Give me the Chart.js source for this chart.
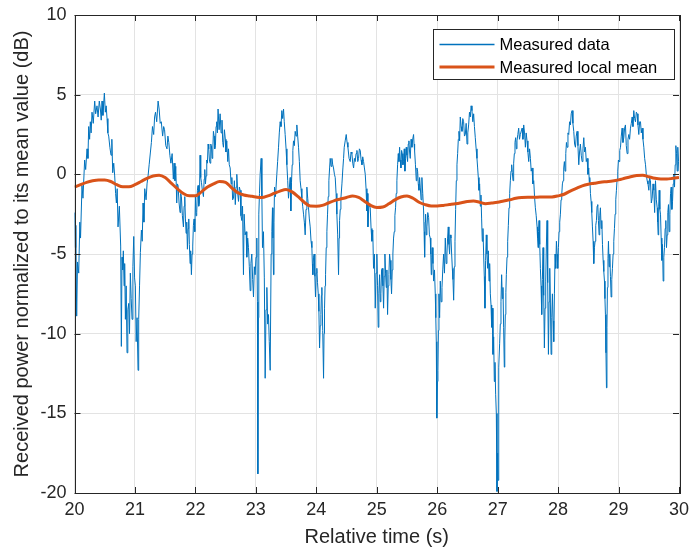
<!DOCTYPE html>
<html lang="en">
<head>
<meta charset="utf-8">
<script src="https://cdn.jsdelivr.net/npm/chart.js"></script>
<style>
  html, body { margin: 0; padding: 0; background: #fff; }
</style>
</head>
<body>
<canvas id="chartCanvas" width="693" height="553"></canvas>
<script>
// measured received power (dB)
const measuredTime = [
  20.000,20.012,20.022,20.036,20.050,20.070,20.088,20.100,20.124,20.140,
  20.168,20.185,20.207,20.222,20.235,20.250,20.262,20.275,20.290,20.310,
  20.334,20.350,20.372,20.390,20.410,20.428,20.442,20.455,20.470,20.494,
  20.510,20.524,20.538,20.552,20.566,20.585,20.604,20.618,20.632,20.649,
  20.665,20.680,20.693,20.706,20.720,20.742,20.764,20.775,20.786,20.797,
  20.808,20.820,20.830,20.842,20.855,20.869,20.882,20.897,20.910,20.924,
  20.938,20.952,20.966,20.980,20.994,21.007,21.020,21.035,21.051,21.062,
  21.076,21.090,21.107,21.120,21.134,21.148,21.162,21.184,21.200,21.217,
  21.235,21.256,21.272,21.290,21.310,21.325,21.340,21.360,21.383,21.400,
  21.418,21.436,21.458,21.475,21.490,21.510,21.530,21.545,21.560,21.578,
  21.595,21.615,21.635,
  21.647,21.662,21.675,21.691,21.702,21.713,21.730,21.746,21.757,21.768,
  21.785,21.802,21.813,21.824,21.835,21.846,21.857,21.868,21.880,21.890,
  21.900,21.912,21.922,21.934,21.945,21.956,21.967,21.978,21.990,22.000,
  22.011,22.022,22.033,22.044,22.055,22.066,22.077,22.088,22.100,22.115,
  22.133,22.145,22.155,22.166,22.177,22.188,22.199,22.210,22.221,22.232,
  22.243,22.254,22.265,22.276,22.287,22.298,22.309,22.320,22.331,22.342,
  22.353,22.364,22.375,22.392,
  22.409,22.425,22.440,22.452,22.464,22.480,22.495,22.505,22.519,22.535,
  22.548,22.560,22.575,22.590,22.603,22.616,22.630,22.645,22.660,22.672,
  22.685,22.700,22.713,22.727,22.740,22.754,22.768,22.780,22.795,22.806,
  22.822,22.839,22.850,22.865,22.878,22.892,22.906,22.918,22.933,22.947,
  22.961,22.975,22.988,23.003,23.016,23.026,23.033,23.041,23.049,23.060,
  23.071,23.088,23.100,23.110,23.126,23.140,23.154,23.168,23.182,23.196,
  23.209,23.222,23.237,23.253,23.265,23.275,23.283,23.292,23.300,23.309,
  23.325,23.347,23.360,23.375,23.388,23.402,23.416,23.430,23.444,23.458,
  23.470,23.485,23.500,23.513,23.527,23.540,23.555,23.568,23.579,23.590,
  23.601,23.612,23.623,23.637,23.651,23.665,23.678,23.692,23.706,23.720,
  23.733,23.747,23.761,23.775,23.789,23.802,23.816,23.830,23.844,23.858,
  23.871,23.885,23.899,23.913,23.927,23.935,23.943,23.954,23.965,23.976,
  23.987,23.998,24.009,24.020,24.032,24.043,24.054,24.065,24.076,24.084,
  24.092,24.106,24.120,24.128,24.136,24.145,24.153,24.164,24.175,24.186,
  24.197,24.208,24.220,24.230,24.244,24.258,24.272,24.285,24.300,24.313,
  24.327,24.340,24.354,24.368,24.377,24.385,24.396,24.407,24.424,24.440,
  24.451,24.462,24.478,24.495,24.509,24.523,24.542,24.561,24.575,24.589,
  24.603,24.617,24.630,24.644,24.658,24.672,24.686,24.699,24.713,24.727,
  24.741,24.755,24.768,24.782,24.796,24.810,24.823,24.837,24.846,24.854,
  24.870,
  24.892,24.906,24.920,24.934,24.947,24.961,24.975,24.988,25.002,25.013,
  25.024,25.035,25.047,25.058,25.069,25.080,25.091,25.102,25.113,25.124,
  25.135,25.146,25.157,25.168,25.179,25.190,25.201,25.212,25.223,25.234,
  25.245,25.256,25.267,25.278,25.289,25.300,25.311,25.322,25.333,25.345,
  25.356,25.367,25.378,25.389,25.400,25.411,25.422,25.433,25.444,25.455,
  25.466,25.477,25.488,25.499,25.510,25.521,25.532,25.543,25.554,25.568,
  25.582,25.595,25.609,25.617,25.626,25.640,25.654,25.665,25.676,25.687,
  25.698,25.709,25.720,25.733,25.747,25.761,25.775,25.783,25.792,25.800,
  25.808,25.819,25.830,25.844,25.858,25.871,25.885,25.894,25.902,25.910,
  25.918,25.930,25.941,25.955,25.968,25.977,25.985,25.991,25.996,26.004,
  26.012,26.020,26.029,26.040,26.051,26.065,26.079,26.092,26.106,26.120,
  26.134,26.148,26.161,26.172,26.183,26.194,26.205,26.216,26.228,26.239,
  26.250,26.261,26.272,26.283,26.294,26.305,26.316,26.327,26.338,26.349,
  26.360,26.371,26.382,26.396,26.410,26.423,26.437,26.451,26.465,26.479,
  26.493,26.506,26.520,26.534,26.548,26.561,26.575,26.589,26.603,26.616,
  26.630,26.644,26.658,26.669,26.680,26.691,26.702,26.713,26.724,26.735,
  26.746,26.757,26.768,26.779,26.790,26.801,26.812,26.823,26.835,26.846,
  26.857,26.868,26.879,26.890,26.901,26.912,26.923,26.934,26.945,26.956,
  26.967,26.978,26.989,27.000,27.006,27.014,27.022,27.033,27.044,27.055,
  27.066,27.077,27.088,27.099,27.110,27.118,27.127,27.136,27.144,27.155,
  27.166,27.177,27.188,27.199,27.210,27.221,27.232,27.243,27.254,27.265,
  27.276,27.287,27.298,27.309,27.320,27.334,27.348,27.361,27.375,
  27.404,27.418,27.431,27.445,27.459,27.472,27.486,27.500,27.514,27.528,
  27.542,27.555,27.569,27.583,27.597,27.610,27.624,27.638,27.652,27.660,
  27.668,27.676,27.685,27.696,27.707,27.718,27.729,27.740,27.751,27.762,
  27.773,27.784,27.795,27.806,27.817,27.828,27.840,27.851,27.862,27.873,
  27.884,27.895,27.906,27.917,27.928,27.939,27.950,27.961,27.972,27.983,
  27.994,28.005,28.016,28.027,28.038,28.049,28.060,28.071,28.082,28.093,
  28.104,28.115,28.127,28.138,28.149,28.163,28.176,28.190,28.204,28.217,
  28.231,28.245,28.259,28.273,28.287,28.300,28.314,28.328,28.342,28.355,
  28.369,28.383,28.397,28.411,28.425,28.438,28.452,28.466,28.480,28.494,
  28.507,28.516,28.524,28.535,28.546,28.557,28.568,28.579,28.590,28.601,
  28.612,28.623,28.634,28.645,28.656,28.667,28.678,28.689,28.700,28.712,
  28.723,28.734,28.745,28.756,28.767,28.775,28.783,28.792,28.800,28.808,
  28.816,28.825,28.833,28.844,28.855,28.866,28.877,28.888,28.899,28.910,
  28.921,28.932,28.943,28.954,28.965,28.976,28.987,28.998,29.009,29.020,
  29.032,29.045,29.059,29.073,29.087,29.100,29.114,29.128,29.142,29.156,
  29.170,29.183,29.197,29.211,29.225,29.238,29.252,29.266,29.280,29.294,
  29.308,29.321,29.335,29.349,29.363,29.376,29.390,29.404,29.418,29.432,
  29.446,29.459,29.473,29.487,29.501,29.514,29.528,29.542,29.556,29.570,
  29.584,29.597,29.611,29.625,29.639,29.647,29.655,29.664,29.672,29.683,
  29.694,29.705,29.716,29.727,29.738,29.749,29.760,29.771,29.782,29.793,
  29.804,29.815,29.826,29.837,29.849,29.860,29.871,29.882,29.893,29.904,
  29.915,29.926,29.937,29.948,29.959,29.970,29.980,29.992,30.000
];
const measuredDb = [
  -2.4,-4.6,-3.2,-8.9,-5.5,-6.2,-3.0,-4.0,-0.7,-1.5,
  0.9,0.3,1.6,1.0,3.0,2.2,3.3,2.6,3.9,3.2,
  4.6,3.8,4.3,3.6,4.6,4.1,3.4,4.6,3.7,5.1,
  3.9,4.3,3.5,2.6,2.4,1.7,1.2,2.2,0.1,0.7,
  -0.1,-1.2,-1.8,-0.9,-3.3,-2.0,-4.5,-10.8,-5.2,-6.0,
  -4.8,-7.0,-5.6,-9.1,-7.0,-11.2,-8.5,-8.1,-10.0,-6.2,
  -7.8,-9.1,-5.8,-3.9,-6.5,-7.0,-10.5,-9.0,-12.3,-9.1,
  -7.0,-4.9,-3.5,-4.2,-1.8,-3.0,-0.9,-1.6,-0.6,-0.1,
  0.6,1.4,2.0,3.0,2.5,3.6,3.9,3.3,4.6,4.1,
  3.2,3.3,2.4,3.0,2.8,1.8,1.6,2.4,2.0,1.2,
  0.7,1.3,-0.3,
  0.7,-0.4,0.5,-1.8,-0.6,-0.7,-1.8,-2.4,-1.2,-1.4,
  -2.6,-3.3,-2.0,-1.4,-2.8,-3.7,-3.0,-4.7,-3.4,-2.8,
  -4.4,-5.6,-4.8,-6.3,-5.0,-4.5,-3.2,-2.8,-3.6,-1.4,
  -2.6,-2.4,-1.0,-0.7,-2.0,-1.8,1.2,-0.2,-0.5,-1.0,
  -1.4,-0.3,0.3,-0.6,-0.1,0.9,0.7,1.9,1.6,0.9,
  0.7,1.9,1.8,1.0,1.4,2.7,2.4,1.6,1.8,3.0,
  3.3,2.6,4.1,2.8,
  3.8,2.6,3.4,2.0,1.7,2.8,2.2,1.4,2.1,0.8,
  1.6,0.6,0.4,-0.6,-0.2,-1.6,-1.5,-0.4,-1.9,-0.8,
  0.0,-1.2,-1.7,-0.8,-1.0,-2.6,-2.9,-2.0,-6.3,-2.5,
  -3.8,-3.6,-5.2,-4.0,-4.6,-5.8,-7.3,-5.6,-5.0,-6.6,
  -7.7,-5.8,-6.3,-5.2,-4.0,-8.0,-18.8,-9.0,-2.5,-1.2,
  0.0,1.0,-1.5,-4.6,-3.6,-6.5,-12.8,-8.5,-7.1,-9.4,
  -8.8,-10.5,-12.3,-5.0,-3.6,-2.1,-4.0,-6.3,-3.0,-0.8,
  -1.4,0.0,0.8,1.7,2.6,3.3,3.0,4.0,3.5,4.1,
  3.3,2.5,1.6,0.6,-0.4,-1.5,-0.8,-0.2,-2.3,-0.5,
  0.6,1.5,2.1,1.8,2.7,2.4,3.1,2.4,1.7,0.8,
  -0.4,-0.9,-1.5,-2.0,-2.5,-3.0,-3.8,-2.2,-0.8,-1.5,
  -2.1,-2.8,-3.3,-4.2,-4.6,-5.6,-6.3,-5.2,-5.0,-6.4,
  -7.7,-6.2,-5.9,-6.8,-7.5,-8.6,-10.9,-9.5,-8.8,-7.6,
  -7.1,-9.8,-12.8,-10.0,-8.4,-7.0,-6.3,-4.6,-3.6,-2.5,
  -1.4,-0.4,0.4,1.0,0.5,1.0,0.6,0.4,0.0,-0.2,
  -1.2,-2.5,-3.8,-6.3,-4.0,-2.9,-2.2,-1.5,-0.6,0.4,
  1.0,1.7,2.1,2.5,2.0,1.7,1.0,0.8,1.4,1.3,
  0.7,0.4,1.0,0.8,1.3,1.5,0.8,1.0,1.6,1.5,
  0.9,0.6,1.1,0.8,0.4,0.0,-0.9,-2.3,-1.2,-3.3,
  -1.9,
  -2.1,-3.4,-4.2,-3.5,-5.9,-5.0,-8.4,-6.2,-5.0,-7.0,
  -9.6,-7.5,-6.3,-8.0,-7.5,-6.0,-5.9,-7.0,-8.4,-6.4,
  -5.0,-6.2,-7.1,-6.0,-8.8,-7.0,-6.3,-5.0,-5.4,-6.6,
  -7.5,-6.0,-5.0,-4.0,-3.6,-2.6,-2.1,-1.2,-0.4,0.6,
  1.3,0.8,1.7,0.9,0.4,1.5,1.3,0.6,0.8,1.6,
  0.2,1.0,1.7,1.2,0.8,1.9,2.1,1.4,1.0,2.2,
  1.7,2.2,2.5,1.9,1.5,0.6,-0.4,0.4,0.2,-0.6,
  -1.0,-0.2,-0.8,-1.6,-0.2,-1.2,-2.3,-3.6,-5.2,-3.0,
  -2.5,-3.8,-3.3,-2.4,-2.7,-3.8,-4.0,-5.0,-6.3,-5.2,
  -4.6,-5.6,-6.7,-6.0,-7.5,-9.0,-10.5,-12.8,-15.3,-13.0,
  -12.3,-9.8,-7.5,-9.0,-6.7,-8.0,-7.1,-6.0,-5.0,-6.2,
  -4.0,-5.6,-5.0,-4.0,-3.3,-4.4,-5.0,-3.8,-4.0,-5.0,
  -5.9,-6.6,-7.9,-5.8,-4.2,-2.2,-0.4,0.6,1.3,2.2,
  2.7,2.1,3.6,3.0,2.7,3.5,3.3,2.4,2.5,3.2,
  1.9,2.6,3.1,3.9,3.6,4.3,4.0,3.3,3.8,3.0,
  2.3,1.6,1.0,0.4,-0.2,-1.0,-0.6,-2.0,-1.3,-2.8,
  -4.2,-3.4,-5.0,-6.4,-8.4,-5.4,-3.8,-5.0,-5.9,-4.8,
  -6.7,-5.6,-7.5,-8.2,-9.6,-8.4,-11.3,-10.2,-13.0,-11.8,
  -13.8,-15.0,-19.9,-17.5,-19.2,-14.8,-12.1,-10.6,-9.4,-8.0,
  -6.3,-7.8,-7.1,-9.6,-12.1,-10.4,-8.8,-7.4,-6.3,-5.2,
  -4.2,-3.2,-2.1,-1.2,-0.4,0.2,0.6,0.1,-0.4,0.7,
  1.3,2.0,2.3,1.6,2.1,2.5,2.9,2.2,2.5,
  2.9,2.2,3.1,2.6,1.7,2.6,2.1,1.4,0.8,1.6,
  1.0,0.2,0.4,-0.6,-0.4,-1.4,-2.1,-2.6,-3.3,-4.0,
  -4.6,-3.6,-2.9,-4.4,-5.9,-7.0,-8.8,-6.6,-4.6,-7.6,
  -10.9,-8.4,-6.7,-4.5,-2.9,-6.8,-11.3,-8.0,-5.9,-8.2,
  -11.3,-9.0,-7.5,-9.2,-10.5,-7.5,-5.0,-5.9,-4.2,-5.0,
  -5.9,-4.6,-3.6,-3.0,-2.5,-1.6,-1.3,-0.6,-0.4,0.4,
  0.8,0.2,1.3,2.0,1.7,2.6,2.5,3.3,3.1,3.8,
  4.0,3.2,2.7,1.9,1.7,2.4,2.7,1.8,0.6,1.4,
  1.9,1.2,0.8,1.6,2.3,1.4,1.7,0.8,1.0,0.0,
  0.4,-0.5,-0.2,-1.2,-1.7,-2.4,-3.3,-4.2,-5.6,-4.6,
  -4.2,-3.2,-2.9,-2.0,-1.9,-2.9,-3.8,-2.6,-2.1,-3.4,
  -2.9,-4.4,-5.4,-6.1,-6.7,-7.8,-8.8,-11.2,-13.4,-9.6,
  -7.1,-5.3,-4.2,-5.8,-5.0,-6.4,-7.7,-6.6,-5.9,-5.0,
  -4.2,-3.4,-2.5,-1.6,-1.0,-0.3,0.2,0.9,0.8,1.5,
  1.7,2.4,2.9,2.0,2.3,2.9,3.1,1.8,1.3,2.2,
  2.5,2.2,2.9,3.2,3.6,3.0,4.0,3.5,3.3,3.9,
  3.8,3.1,2.5,3.3,3.3,2.6,2.9,2.2,1.7,1.0,
  0.6,0.0,-0.4,-0.6,-1.0,-0.2,-0.4,-1.8,-1.5,-0.6,
  -1.0,-2.4,-0.4,-1.6,-2.1,-3.0,-3.8,-2.0,-1.0,-2.2,
  -2.5,-4.0,-5.4,-4.4,-6.7,-5.2,-4.6,-3.4,-2.9,-4.6,
  -3.8,-2.4,-1.9,-3.6,-2.5,-1.2,-0.8,-2.2,-1.7,-0.6,
  0.0,-0.8,0.6,1.8,1.3,0.2,1.7,0.8,0.2
];

// local mean (dB)
const meanTime = [
  20.0,20.1,20.2,20.3,20.4,20.5,20.6,20.7,20.8,20.9,
  21.0,21.1,21.2,21.3,21.4,21.5,21.6,21.7,21.8,21.9,
  22.0,22.1,22.2,22.3,22.4,22.5,22.6,22.7,22.8,22.9,
  23.0,23.1,23.2,23.3,23.4,23.5,23.6,23.7,23.8,23.9,
  24.0,24.1,24.2,24.3,24.4,24.5,24.6,24.7,24.8,24.9,
  25.0,25.1,25.2,25.3,25.4,25.5,25.6,25.7,25.8,25.9,
  26.0,26.1,26.2,26.3,26.4,26.5,26.6,26.7,26.8,26.9,
  27.0,27.1,27.2,27.3,27.4,27.5,27.6,27.7,27.8,27.9,
  28.0,28.1,28.2,28.3,28.4,28.5,28.6,28.7,28.8,28.9,
  29.0,29.1,29.2,29.3,29.4,29.5,29.6,29.7,29.8,29.9,
  30.0
];
const meanDb = [
  -0.8,-0.65,-0.5,-0.4,-0.35,-0.35,-0.45,-0.65,-0.78,-0.78,
  -0.65,-0.45,-0.25,-0.1,-0.05,-0.2,-0.55,-0.9,-1.2,-1.35,
  -1.35,-1.1,-0.8,-0.6,-0.45,-0.5,-0.85,-1.15,-1.3,-1.36,
  -1.42,-1.46,-1.35,-1.2,-1.05,-0.95,-1.1,-1.4,-1.75,-1.99,
  -2.0,-1.95,-1.8,-1.65,-1.55,-1.45,-1.36,-1.45,-1.7,-1.95,
  -2.08,-2.05,-1.85,-1.6,-1.42,-1.36,-1.5,-1.75,-1.9,-1.98,
  -1.98,-1.95,-1.9,-1.85,-1.78,-1.7,-1.68,-1.75,-1.84,-1.8,
  -1.75,-1.67,-1.6,-1.5,-1.45,-1.44,-1.44,-1.43,-1.43,-1.42,
  -1.35,-1.25,-1.05,-0.88,-0.72,-0.62,-0.56,-0.5,-0.46,-0.42,
  -0.35,-0.25,-0.15,-0.08,-0.05,-0.15,-0.25,-0.3,-0.3,-0.25,
  -0.2
];

const seriesNames = ['Measured data', 'Measured local mean'];
const xRange = [20, 30];
const yRange = [-20, 10];

if (measuredTime.length !== measuredDb.length) {
  throw new Error('measured arrays differ: ' + measuredTime.length + ' vs ' + measuredDb.length);
}

const FONT = "'Liberation Sans', Arial, sans-serif";
const AXIS_COLOR = '#262626';

// MATLAB style box with inward ticks on all four sides
const boxTicks = {
  id: 'boxTicks',
  afterDatasetsDraw(chart) {
    const { ctx, chartArea: a, scales: { x, y } } = chart;
    const len = 6;
    ctx.save();
    ctx.strokeStyle = AXIS_COLOR;
    ctx.lineWidth = 1;
    ctx.beginPath();
    x.ticks.forEach(t => {
      const px = Math.round(x.getPixelForValue(t.value)) + 0.5;
      ctx.moveTo(px, a.bottom); ctx.lineTo(px, a.bottom - len);
      ctx.moveTo(px, a.top); ctx.lineTo(px, a.top + len);
    });
    y.ticks.forEach(t => {
      const py = Math.round(y.getPixelForValue(t.value)) + 0.5;
      ctx.moveTo(a.left, py); ctx.lineTo(a.left + len, py);
      ctx.moveTo(a.right, py); ctx.lineTo(a.right - len, py);
    });
    ctx.stroke();
    ctx.strokeRect(Math.round(a.left) + 0.5, Math.round(a.top) + 0.5,
                   Math.round(a.width), Math.round(a.height));
    ctx.restore();
  }
};

// legend box in the upper right corner of the axes
const legendBox = {
  id: 'legendBox',
  afterDraw(chart) {
    const { ctx, chartArea: a } = chart;
    const w = 241, h = 50;
    const x0 = Math.round(a.right - 246) + 0.5, y0 = Math.round(a.top + 14) + 0.5;
    ctx.save();
    ctx.fillStyle = '#fff';
    ctx.fillRect(x0, y0, w, h);
    ctx.strokeStyle = AXIS_COLOR;
    ctx.lineWidth = 1;
    ctx.strokeRect(x0, y0, w, h);
    ctx.font = '16.5px ' + FONT;
    ctx.textBaseline = 'middle';
    chart.data.datasets.forEach((ds, i) => {
      const cy = y0 + 15 + i * 22.5;
      ctx.strokeStyle = ds.borderColor;
      ctx.lineWidth = i === 0 ? 1.5 : 3;
      ctx.beginPath();
      ctx.moveTo(x0 + 6, cy);
      ctx.lineTo(x0 + 61, cy);
      ctx.stroke();
      ctx.fillStyle = '#000';
      ctx.fillText(ds.label, x0 + 66, cy + 1);
    });
    ctx.restore();
  }
};

const ctx = document.getElementById('chartCanvas').getContext('2d');
const chart = new Chart(ctx, {
  type: 'line',
  data: {
    datasets: [{
      label: seriesNames[0],
      data: measuredTime.map((t, i) => ({ x: t, y: measuredDb[i] })),
      borderColor: '#0072BD',
      borderWidth: 1,
      pointRadius: 0,
      tension: 0,
      order: 2
    }, {
      label: seriesNames[1],
      data: meanTime.map((t, i) => ({ x: t, y: meanDb[i] })),
      borderColor: '#D95319',
      borderWidth: 3,
      pointRadius: 0,
      tension: 0.4,
      cubicInterpolationMode: 'monotone',
      order: 1
    }]
  },
  options: {
    responsive: false,
    devicePixelRatio: 1,
    animation: false,
    layout: { padding: { top: 15, right: 14, left: 0, bottom: 0 } },
    plugins: { legend: { display: false }, tooltip: { enabled: false } },
    scales: {
      x: {
        type: 'linear',
        min: xRange[0], max: xRange[1],
        ticks: { stepSize: 1, padding: 6, color: AXIS_COLOR, font: { family: FONT, size: 18 } },
        grid: { color: '#e3e3e3', drawTicks: false },
        border: { display: false },
        title: { display: true, text: 'Relative time (s)', color: AXIS_COLOR,
                 font: { family: FONT, size: 20 }, padding: { top: 0, bottom: 4 } },
        afterFit: s => { s.height = 60; s.paddingLeft = 0; s.paddingRight = 0; }
      },
      y: {
        type: 'linear',
        min: yRange[0], max: yRange[1],
        ticks: { stepSize: 5, padding: 8, color: AXIS_COLOR, font: { family: FONT, size: 18 } },
        grid: { color: '#e3e3e3', drawTicks: false },
        border: { display: false },
        title: { display: true, text: 'Received power normalized to its mean value (dB)', color: AXIS_COLOR,
                 font: { family: FONT, size: 20 }, padding: { top: 10, bottom: 0 } },
        afterFit: s => { s.width = 74.5; s.paddingTop = 0; s.paddingBottom = 0; }
      }
    }
  },
  plugins: [boxTicks, legendBox]
});
</script>
</body>
</html>
